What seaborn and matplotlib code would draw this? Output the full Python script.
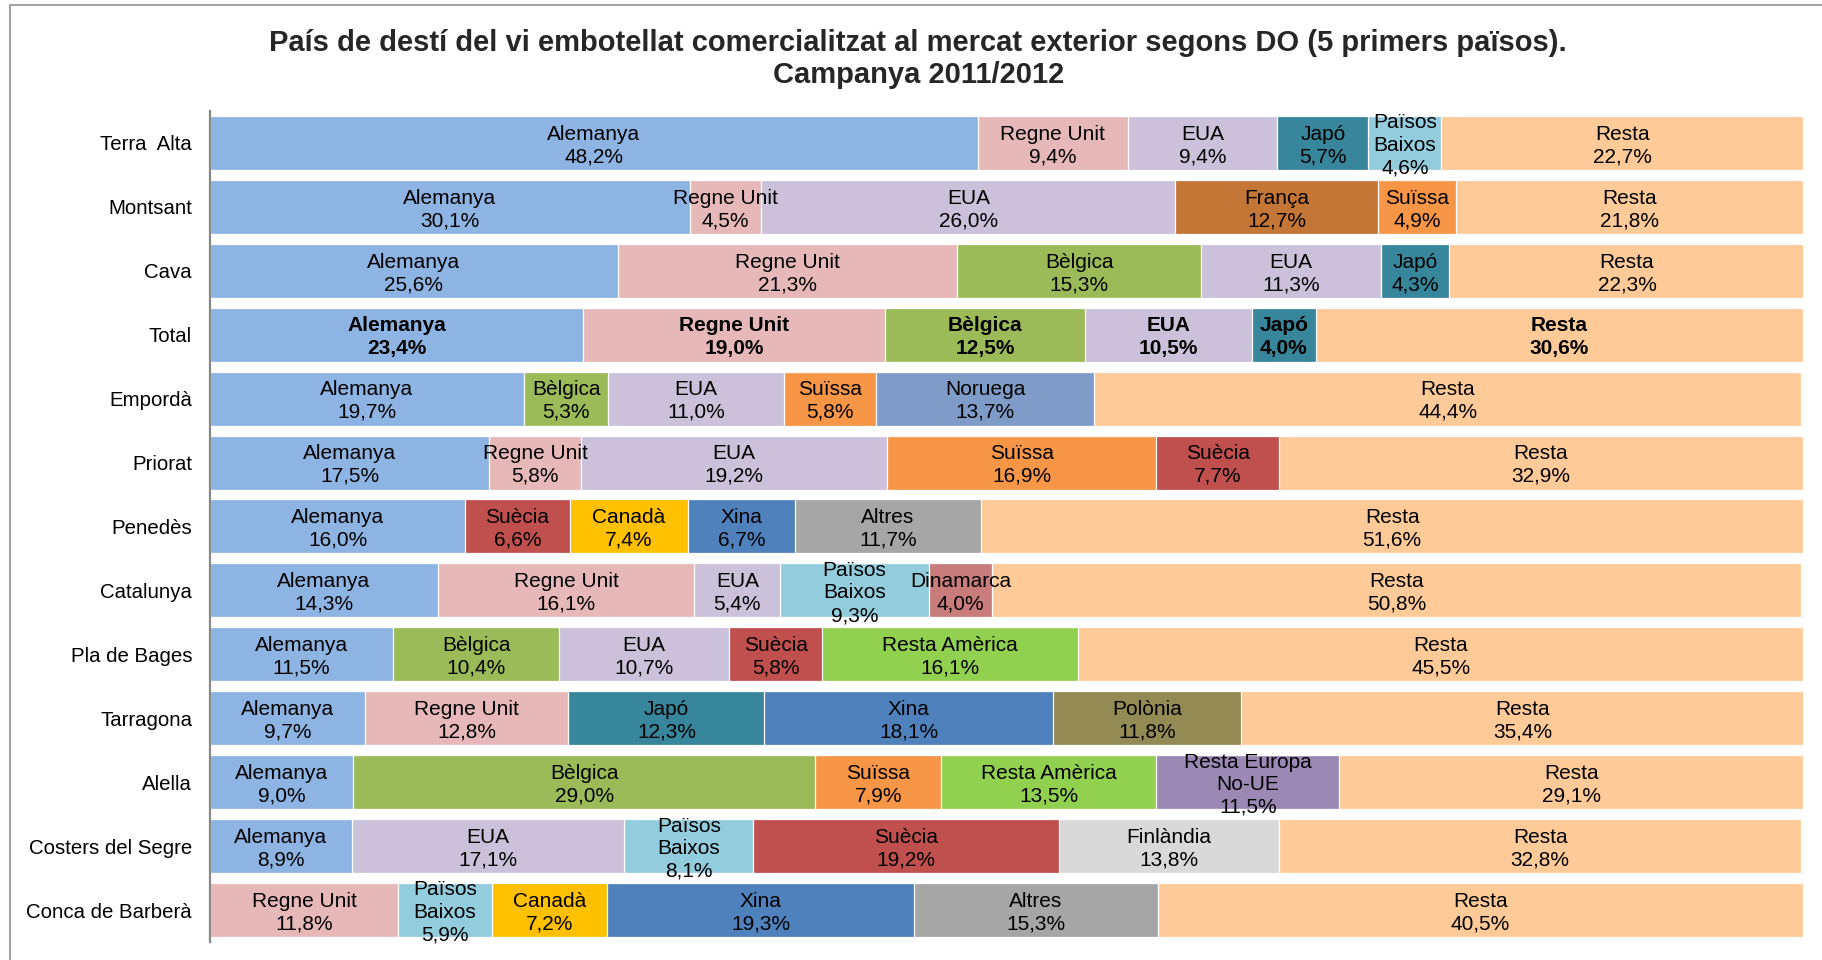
import matplotlib
matplotlib.use("Agg")
import matplotlib.pyplot as plt
from matplotlib.lines import Line2D
import numpy as np
import pandas as pd
import seaborn as sns

# ---- data -------------------------------------------------------------
regions = [
    "Terra  Alta", "Montsant", "Cava", "Total", "Empordà", "Priorat",
    "Penedès", "Catalunya", "Pla de Bages", "Tarragona", "Alella",
    "Costers del Segre", "Conca de Barberà",
]

segment_names = [
    ["Alemanya", "Regne Unit", "EUA", "Japó", "Països\nBaixos", "Resta"],
    ["Alemanya", "Regne Unit", "EUA", "França", "Suïssa", "Resta"],
    ["Alemanya", "Regne Unit", "Bèlgica", "EUA", "Japó", "Resta"],
    ["Alemanya", "Regne Unit", "Bèlgica", "EUA", "Japó", "Resta"],
    ["Alemanya", "Bèlgica", "EUA", "Suïssa", "Noruega", "Resta"],
    ["Alemanya", "Regne Unit", "EUA", "Suïssa", "Suècia", "Resta"],
    ["Alemanya", "Suècia", "Canadà", "Xina", "Altres", "Resta"],
    ["Alemanya", "Regne Unit", "EUA", "Països\nBaixos", "Dinamarca", "Resta"],
    ["Alemanya", "Bèlgica", "EUA", "Suècia", "Resta Amèrica", "Resta"],
    ["Alemanya", "Regne Unit", "Japó", "Xina", "Polònia", "Resta"],
    ["Alemanya", "Bèlgica", "Suïssa", "Resta Amèrica", "Resta Europa\nNo-UE", "Resta"],
    ["Alemanya", "EUA", "Països\nBaixos", "Suècia", "Finlàndia", "Resta"],
    ["Regne Unit", "Països\nBaixos", "Canadà", "Xina", "Altres", "Resta"],
]

segment_values = [
    [48.2, 9.4, 9.4, 5.7, 4.6, 22.7],
    [30.1, 4.5, 26.0, 12.7, 4.9, 21.8],
    [25.6, 21.3, 15.3, 11.3, 4.3, 22.3],
    [23.4, 19.0, 12.5, 10.5, 4.0, 30.6],
    [19.7, 5.3, 11.0, 5.8, 13.7, 44.4],
    [17.5, 5.8, 19.2, 16.9, 7.7, 32.9],
    [16.0, 6.6, 7.4, 6.7, 11.7, 51.6],
    [14.3, 16.1, 5.4, 9.3, 4.0, 50.8],
    [11.5, 10.4, 10.7, 5.8, 16.1, 45.5],
    [9.7, 12.8, 12.3, 18.1, 11.8, 35.4],
    [9.0, 29.0, 7.9, 13.5, 11.5, 29.1],
    [8.9, 17.1, 8.1, 19.2, 13.8, 32.8],
    [11.8, 5.9, 7.2, 19.3, 15.3, 40.5],
]

countries = [
    "Alemanya", "Regne Unit", "EUA", "Japó", "Països\nBaixos", "Resta",
    "França", "Suïssa", "Bèlgica", "Noruega", "Suècia", "Canadà", "Xina",
    "Altres", "Dinamarca", "Resta Amèrica", "Polònia",
    "Resta Europa\nNo-UE", "Finlàndia",
]
country_colors = [
    "#8EB4E3", "#E6B9B8", "#CCC1DA", "#37869B", "#93CDDD", "#FECA98",
    "#C47636", "#F79646", "#9BBB59", "#7F9CC8", "#C0504D", "#FFC000", "#4F81BD",
    "#A6A6A6", "#C97C7C", "#92D050", "#948A54",
    "#9B88B4", "#D9D9D9",
]

title = ("País de destí del vi embotellat comercialitzat al mercat exterior "
         "segons DO (5 primers països).\nCampanya 2011/2012")
bold_region = "Total"

# ---- long table with stacked positions -------------------------------
records = []
for region, names, vals in zip(regions, segment_names, segment_values):
    left = 0.0
    for k, (name, v) in enumerate(zip(names, vals)):
        records.append(dict(region=region, country=name, seg=k,
                            value=v, left=left, right=left + v))
        left += v
df = pd.DataFrame(records)
palette = dict(zip(countries, country_colors))

# ---- figure ----------------------------------------------------------
sns.set_style("white")
plt.rcParams["font.family"] = ["Liberation Sans", "DejaVu Sans"]

fig = plt.figure(figsize=(18.22, 9.60), dpi=100)
ax = fig.add_axes([0.1153, 0.01875, 0.9896 - 0.1153, 0.8844 - 0.01875])

# stacked bars: cumulative ends drawn from the outermost segment inwards
for k in sorted(df["seg"].unique(), reverse=True):
    sub = df[df["seg"] == k]
    sns.barplot(data=sub, x="right", y="region", hue="country",
                order=regions, palette=palette, dodge=False, legend=False,
                width=0.845, saturation=1, errorbar=None,
                edgecolor="white", linewidth=0.9, ax=ax)

# labels inside segments (nudged slightly down to sit optically centred)
ypos = {r: i for i, r in enumerate(regions)}
for _, row in df.iterrows():
    label = f"{row['country']}\n{row['value']:.1f}%".replace(".", ",")
    ax.text(row["left"] + row["value"] / 2, ypos[row["region"]] + 0.04, label,
            ha="center", va="center", multialignment="center",
            fontsize=15, linespacing=1.24, color="black",
            fontweight="bold" if row["region"] == bold_region else "normal")

ax.set_xlim(0, 100)
ax.set_ylim(len(regions) - 0.5, -0.5)
ax.set_xlabel("")
ax.set_ylabel("")
ax.xaxis.set_visible(False)
for side in ("top", "right", "bottom"):
    ax.spines[side].set_visible(False)
ax.spines["left"].set_color("#888888")
ax.spines["left"].set_linewidth(1.6)
ax.tick_params(axis="y", length=0, pad=13, labelsize=14.7, labelcolor="black")

# chart title
fig.text(0.504, 0.9385, title, ha="center", va="center",
         fontsize=21, fontweight="bold", linespacing=1.15)

# outer chart frame (left and top edges)
fig.add_artist(Line2D([10 / 1822, 10 / 1822], [0, 1 - 5 / 960],
                      transform=fig.transFigure, color="#999999", lw=1.3))
fig.add_artist(Line2D([10 / 1822, 1], [1 - 5 / 960, 1 - 5 / 960],
                      transform=fig.transFigure, color="#999999", lw=1.3))

fig.savefig("out.png", dpi=100)
